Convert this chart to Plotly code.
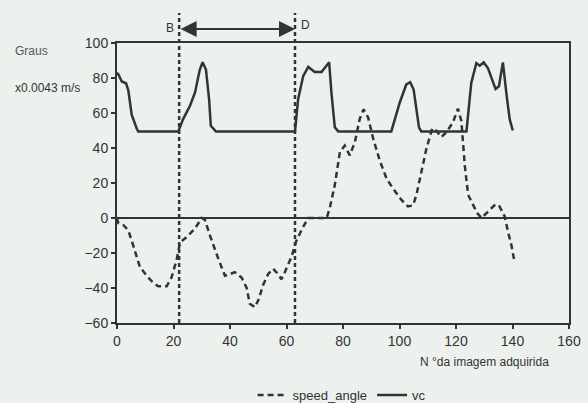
import plotly.graph_objects as go

# vc (solid)
vc_x = [0, 0.5, 1.7, 3.2, 4, 5.2, 7, 7.5, 21.7, 23.4, 25.8, 27.6, 29.3, 30.3, 31.5, 32.6, 33.2, 35,
        63, 64.1, 65.9, 67.7, 70, 72.4, 75.1, 75.9, 77.1, 78.3, 97.1, 100.1, 102.4, 103.8, 105,
        106.9, 107.7, 123.7, 125.4, 127.2, 128.4, 129.8, 131.3, 134, 135.2, 136.6, 137.8, 139, 140.1]
vc_y = [83, 82, 78, 77, 73, 59, 51, 49.5, 49.5, 56.5, 64, 71.6, 84.7, 89, 84.7, 67.8, 52.7, 49.5,
        49.5, 67.8, 81, 86.3, 83.4, 83.4, 89, 71.6, 51.8, 49.5, 49.5, 66, 76.3, 77.6, 73.4,
        51.8, 49.5, 49.5, 77.2, 88.5, 87, 88.9, 85.7, 73.8, 75.3, 88.9, 71.6, 56.5, 50]

# speed_angle (dashed)
sa_x = [0, 0.5, 2.2, 4, 5.8, 8.1, 10.5, 12.8, 14.6, 17.6, 19.3, 21.1, 22.3, 24.6, 27.6, 30, 31.1,
        32.9, 35.8, 38.2, 40, 41.7, 44.1, 45.9, 47, 48.8, 50, 51.8, 53.5, 55.3, 57, 58.2, 59.4,
        61.8, 63.5, 65.9, 67.7, 74.2, 75.3, 77.1, 78.9, 80.6, 82.4, 84.2, 85.9, 87.3, 88.9, 90.7,
        93, 95.4, 97.7, 100.7, 103, 104.8, 106, 107.7, 109.5, 111.6, 113, 114.8, 116.6, 118.9,
        120.7, 121.9, 123.1, 124.3, 126.1, 127.5, 129, 130.7, 132.5, 134, 135.4, 137.2, 138.4,
        139.6, 140.7]
sa_y = [0, -3, -4, -7, -16, -28, -33, -37, -39, -39, -34, -24, -14, -11, -6, 0, -1, -10, -23, -33,
        -32, -31, -34, -40, -49, -51, -47, -38, -32, -29, -32, -35, -31, -22, -13, -5, 0, 0, 5.6,
        18.8, 37.7, 41.4, 35.8, 43.3, 56.5, 62.1, 57.5, 45.2, 32.9, 22.6, 16.9, 10.3, 6.6, 7.2,
        13.2, 26.4, 39.5, 51.2, 49.9, 46.2, 49, 54.6, 62.5, 55.5, 30.1, 13.2, 7.5, 2.8, 0, 2.8,
        5.6, 7.9, 6.6, 1, -7.7, -15.5, -25]

# markers B and D
mark_x = [22, 63]
mark_labels = ["B", "D"]

x_ticks = [0, 20, 40, 60, 80, 100, 120, 140, 160]
y_ticks = [-60, -40, -20, 0, 20, 40, 60, 80, 100]

ink = "#333333"
bg = "#edf1ed"
font = "Liberation Sans, Arial, sans-serif"

fig = go.Figure()
fig.add_trace(go.Scatter(x=sa_x, y=sa_y, mode="lines", name="speed_angle",
                         line=dict(color=ink, width=2.5, dash="6px,4px")))
fig.add_trace(go.Scatter(x=vc_x, y=vc_y, mode="lines", name="vc",
                         line=dict(color=ink, width=2.5)))

for xv in mark_x:
    fig.add_shape(type="line", xref="x", yref="paper", x0=xv, x1=xv, y0=0, y1=1.107,
                  line=dict(color=ink, width=2.5, dash="4px,3px"))

# double arrow between B and D
fig.add_annotation(x=mark_x[1], y=1.05, xref="x", yref="paper", ax=mark_x[0], ay=0,
                   axref="x", ayref="pixel", text="", showarrow=True,
                   arrowhead=2, arrowside="end+start", arrowsize=1.6, arrowwidth=2,
                   arrowcolor=ink)
fig.add_annotation(x=mark_x[0], y=1.087, xref="x", yref="paper", text=mark_labels[0],
                   showarrow=False, xanchor="right", xshift=-3,
                   font=dict(family=font, size=12, color=ink))
fig.add_annotation(x=mark_x[1], y=1.097, xref="x", yref="paper", text=mark_labels[1],
                   showarrow=False, xanchor="left", xshift=4,
                   font=dict(family=font, size=12, color=ink))

# axis labels
fig.add_annotation(x=-0.23, y=(323 - 51) / 280, xref="paper", yref="paper", text="Graus",
                   showarrow=False, xanchor="left", yanchor="middle",
                   font=dict(family=font, size=12, color="#555"))
fig.add_annotation(x=-0.23, y=(323 - 88) / 280, xref="paper", yref="paper", text="x0.0043 m/s",
                   showarrow=False, xanchor="left", yanchor="middle",
                   font=dict(family=font, size=12, color=ink))
fig.add_annotation(x=(551 - 117) / 452, y=(323 - 362) / 280, xref="paper", yref="paper",
                   text="N °da imagem adquirida", showarrow=False, xanchor="right",
                   yanchor="middle", font=dict(family=font, size=12, color=ink))

fig.update_layout(
    width=588, height=403,
    margin=dict(l=117, r=19, t=43, b=80, autoexpand=False),
    paper_bgcolor=bg, plot_bgcolor=bg,
    font=dict(family=font, color=ink),
    showlegend=True,
    legend=dict(orientation="h", x=0.30, y=-0.257, xanchor="left", yanchor="middle",
                bgcolor="rgba(0,0,0,0)", font=dict(size=13, color=ink),
                itemwidth=30, tracegroupgap=0),
    xaxis=dict(range=[0, 160], tickvals=x_ticks, ticks="outside", ticklen=4, tickwidth=2,
               tickcolor=ink, showline=True, linecolor=ink, linewidth=2, mirror=True,
               showgrid=False, zeroline=False, tickfont=dict(size=14, color=ink)),
    yaxis=dict(range=[-60, 100], tickvals=y_ticks, ticks="outside", ticklen=4, tickwidth=2,
               tickcolor=ink, showline=True, linecolor=ink, linewidth=2, mirror=True,
               showgrid=False, zeroline=True, zerolinecolor=ink, zerolinewidth=2,
               tickfont=dict(size=14, color=ink)),
)

fig.write_html("out.html", config={"displayModeBar": False},
               post_script="document.body.style.margin='0';")
